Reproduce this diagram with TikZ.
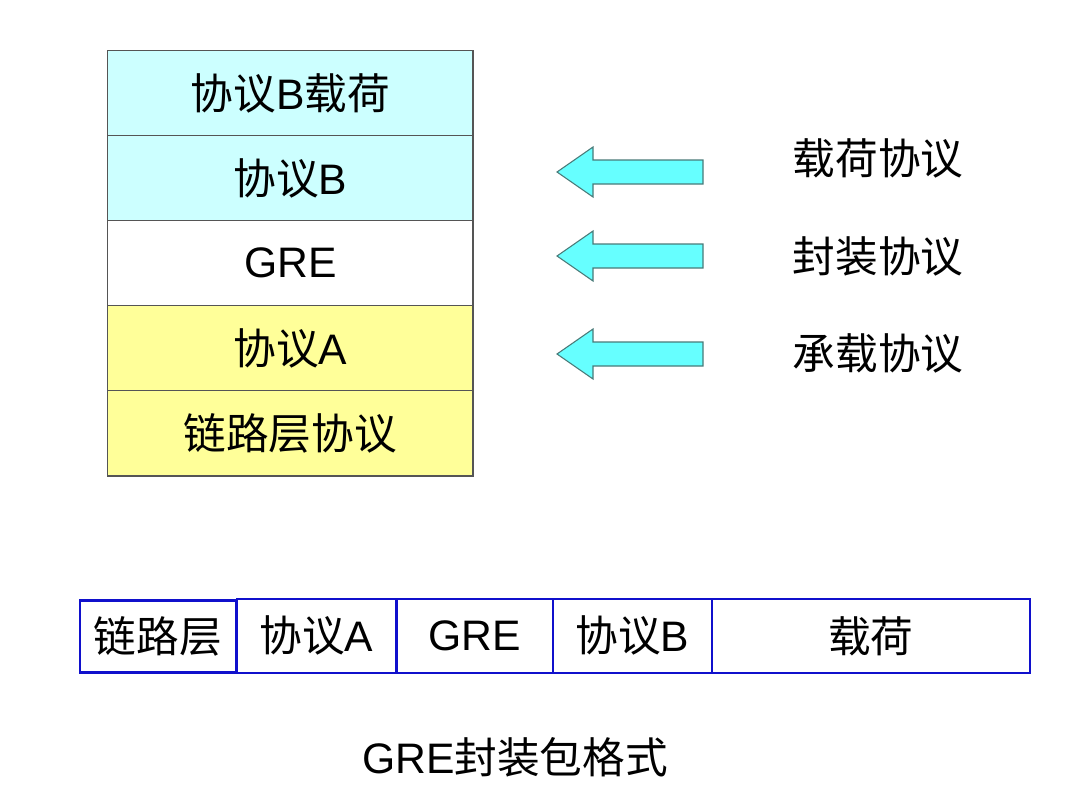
\documentclass[tikz,border=0pt]{standalone}
\usepackage{fontspec}
\setmainfont{Liberation Sans}
\newfontfamily\cjk{Noto Sans CJK SC}
\newcommand{\zh}[1]{{\cjk #1}}
\definecolor{lcyan}{HTML}{CCFFFF}
\definecolor{lyellow}{HTML}{FFFF99}
\definecolor{acyan}{HTML}{66FFFF}
\definecolor{aedge}{HTML}{4A7A78}
\definecolor{barblue}{HTML}{1010CC}
\definecolor{gridgray}{HTML}{555555}
\begin{document}
\begin{tikzpicture}[x=0.75pt,y=-0.75pt,
  lbl/.style={font=\fontsize{32}{34}\selectfont, inner sep=0pt, text=black},
  layer/.style={draw=gridgray, line width=0.9pt, minimum width=274pt, minimum height=64pt, inner sep=0pt, anchor=north west, font=\fontsize{32}{34}\selectfont},
  cell/.style={draw=barblue, line width=1.3pt, minimum height=55.5pt, inner sep=0pt, anchor=north west, font=\fontsize{32}{34}\selectfont},
  bigarrow/.style={draw=aedge, fill=acyan, line width=0.8pt, line join=miter}
]
\useasboundingbox (0,0) rectangle (1071,800);
% stack
\node[layer, fill=lcyan] (s1) at (107,50) {\zh{协议}B\zh{载荷}};
\node[layer, fill=lcyan] (s2) at (107,135) {\zh{协议}B};
\node[layer, fill=white] (s3) at (107,220) {GRE};
\node[layer, fill=lyellow] (s4) at (107,305) {\zh{协议}A};
\node[layer, fill=lyellow] (s5) at (107,390) {\zh{链路层协议}};
% arrows
\foreach \yc/\nm in {172/a1,256/a2,354/a3}{
  \draw[bigarrow] (557,\yc) -- (593,\yc-25) -- (593,\yc-12) -- (703,\yc-12) -- (703,\yc+12) -- (593,\yc+12) -- (593,\yc+25) -- cycle;
}
\node[lbl] (t1) at (878,158) {\zh{载荷协议}};
\node[lbl] (t2) at (878,256) {\zh{封装协议}};
\node[lbl] (t3) at (878,353) {\zh{承载协议}};
% bar
\node[cell, minimum width=119.25pt] (b2) at (236,598) {\zh{协议}A};
\node[cell, minimum width=117pt] (b3) at (396,598) {GRE};
\node[cell, minimum width=119.25pt] (b4) at (552,598) {\zh{协议}B};
\node[cell, minimum width=238.5pt] (b5) at (711,598) {\zh{载荷}};
\node[cell, line width=2.2pt, minimum width=117pt, minimum height=54pt] (b1) at (78.5,599) {\zh{链路层}};
% caption
\node[lbl] (cap) at (515,757) {GRE\zh{封装包格式}};
\end{tikzpicture}
\end{document}
